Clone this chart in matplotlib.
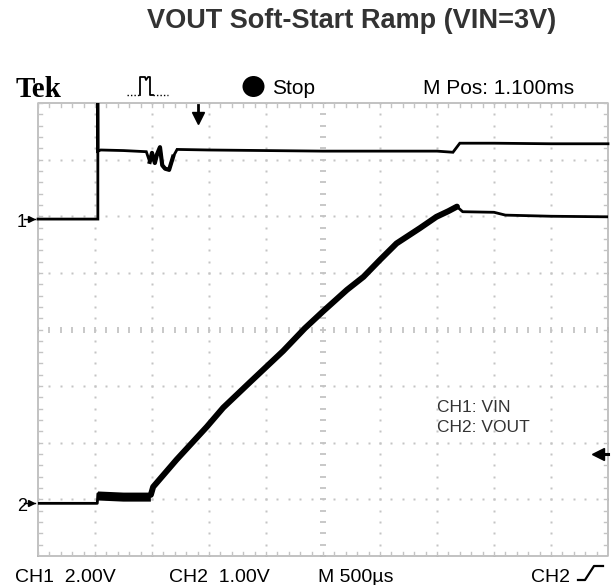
import numpy as np
import matplotlib
matplotlib.use("Agg")
import matplotlib.pyplot as plt
from matplotlib import font_manager as fm
from matplotlib.lines import Line2D
from matplotlib.patches import Circle

# ---------------- data (screen divisions) ----------------
vin_t = [0.0, 1.05, 1.05, 1.052, 1.10, 1.50, 1.90, 1.96, 2.00, 2.05, 2.09, 2.14, 2.18, 2.23, 2.30, 2.37, 2.44,
         3.0, 4.0, 5.0, 6.0, 7.0, 7.28, 7.40, 8.0, 9.0, 10.0]
vin_v = [5.95, 5.95, 8.0, 7.15, 7.17, 7.16, 7.14, 6.96, 7.12, 6.94, 7.10, 7.22, 6.90, 6.84, 6.82, 7.05, 7.18,
         7.17, 7.16, 7.15, 7.15, 7.15, 7.13, 7.29, 7.29, 7.28, 7.28]

vout_t = [0.0, 1.04, 1.05, 1.50, 1.98, 2.02, 2.43, 2.96, 3.25, 3.72, 4.30, 4.68, 5.0, 5.42, 5.71, 6.0,
          6.29, 6.70, 6.99, 7.20, 7.35, 7.45, 8.0, 8.2, 9.0, 10.0]
vout_v = [0.93, 0.93, 1.10, 1.08, 1.08, 1.22, 1.70, 2.28, 2.62, 3.07, 3.62, 4.02, 4.32, 4.70, 4.93, 5.23,
          5.52, 5.79, 5.99, 6.09, 6.17, 6.08, 6.07, 6.02, 6.00, 5.99]

ch1_ground = 5.95
ch2_ground = 0.93
trig_level = 1.80
trig_pos = 2.8

title = "VOUT Soft-Start Ramp (VIN=3V)"
legend_lines = ["CH1: VIN", "CH2: VOUT"]
bottom_labels = ["CH1  2.00V", "CH2  1.00V", "M 500\u00b5s", "CH2"]
top_labels = ["Tek", "Stop", "M Pos: 1.100ms"]

# ---------------- figure ----------------
W, H = 613, 585
fig = plt.figure(figsize=(W / 100, H / 100), dpi=100)
fig.patch.set_facecolor("white")

L, R, T, B = 38, 608, 103, 556
ax = fig.add_axes([L / W, 1 - B / H, (R - L) / W, (B - T) / H])
ax.set_xlim(0, 10)
ax.set_ylim(0, 8)
ax.set_axis_off()

def px(x, y):
    return x / W, 1 - y / H

grid_c = "#c4c4c4"
sub = np.arange(0, 10.001, 0.2)
subv = np.arange(0, 8.001, 0.2)
for gy in range(1, 8):
    if gy == 4:
        continue
    ax.plot(sub, np.full_like(sub, gy), ls="none", marker="s", ms=1.7, mfc=grid_c, mec="none", zorder=1)
for gx in range(1, 10):
    if gx == 5:
        continue
    ax.plot(np.full_like(subv, gx), subv, ls="none", marker="s", ms=1.7, mfc=grid_c, mec="none", zorder=1)
ax.plot(sub, np.full_like(sub, 4), ls="none", marker="|", ms=5, mew=1.3, mec=grid_c, zorder=1)
ax.plot(np.full_like(subv, 5), subv, ls="none", marker="_", ms=5, mew=1.3, mec=grid_c, zorder=1)
ax.plot([0, 10, 10, 0, 0], [0, 0, 8, 8, 0], color="#b8b8b8", lw=1.2, zorder=1, clip_on=False)
dy = 4 / 56.6
dx = 4 / 57
for s in sub:
    ax.plot([s, s], [0, dy], color=grid_c, lw=1.0, zorder=1)
    ax.plot([s, s], [8, 8 - dy], color=grid_c, lw=1.0, zorder=1)
for s in subv:
    ax.plot([0, dx], [s, s], color=grid_c, lw=1.0, zorder=1)
    ax.plot([10, 10 - dx], [s, s], color=grid_c, lw=1.0, zorder=1)

# ---------------- traces ----------------
ax.plot(vin_t, vin_v, color="black", lw=2.0, solid_joinstyle="miter", zorder=3, clip_on=False)
ax.plot(vout_t, vout_v, color="black", lw=2.0, zorder=3)
vt = np.array(vout_t)
vv = np.array(vout_v)
m1 = (vt >= 1.05) & (vt <= 1.98)
ax.plot(vt[m1], vv[m1] - 0.04, color="black", lw=6.5, solid_capstyle="butt", zorder=3)
m2 = (vt >= 1.98) & (vt <= 7.35)
ax.plot(vt[m2], vv[m2], color="black", lw=4.3, solid_capstyle="round", zorder=3)
vn = np.array(vin_t)
m3 = (vn >= 1.95) & (vn <= 2.40)
ax.plot(vn[m3], np.array(vin_v)[m3], color="black", lw=3.0, zorder=3)

# ground markers
for g in (ch1_ground, ch2_ground):
    ax.plot([-0.12], [g], marker=">", ms=5, color="black", clip_on=False, zorder=4)
    ax.plot([-0.25, -0.05], [g, g], color="black", lw=1.0, clip_on=False)

# trigger level arrow at right
ax.plot([9.82, 10.0], [trig_level, trig_level], color="black", lw=2.2, clip_on=False, zorder=4)
ax.plot([9.82], [trig_level], marker="<", ms=8, color="black", clip_on=False, zorder=4)
# trigger position arrow at top
ax.plot([trig_pos, trig_pos], [7.97, 7.80], color="black", lw=2.0)
ax.plot([trig_pos], [7.74], marker="v", ms=8, color="black")

# ---------------- texts ----------------
def has_font(name):
    try:
        fm.findfont(fm.FontProperties(family=name), fallback_to_default=False)
        return True
    except Exception:
        return False

sans = "Liberation Sans" if has_font("Liberation Sans") else "DejaVu Sans"
serif = "Liberation Serif" if has_font("Liberation Serif") else "DejaVu Serif"

fig.text(*px(352, 21), title, ha="center", va="center", fontsize=19.5, fontweight="bold",
         color="#333333", family=sans)

fig.text(*px(16, 97), top_labels[0], ha="left", va="baseline", fontsize=21, fontweight="bold",
         family=serif, color="black")
fig.text(*px(272, 94), top_labels[1], ha="left", va="baseline", fontsize=15, family=sans, color="black")
fig.text(*px(423, 94), top_labels[2], ha="left", va="baseline", fontsize=15, family=sans, color="black")
fig.patches.append(Circle(px(253.5, 86.5), radius=11 / W, transform=fig.transFigure,
                          facecolor="black", edgecolor="none"))

# acquisition icon
fig.lines.append(Line2D([x / W for x in [127, 140]], [1 - 95 / H] * 2, transform=fig.transFigure,
                        color="black", lw=1.0, ls=(0, (1, 1.5))))
fig.lines.append(Line2D([x / W for x in [140, 140, 145, 146, 148, 150, 150, 153]],
                        [1 - y / H for y in [95, 77, 77, 80, 77, 77, 95, 95]],
                        transform=fig.transFigure, color="black", lw=1.3))
fig.lines.append(Line2D([x / W for x in [153, 168]], [1 - 95 / H] * 2, transform=fig.transFigure,
                        color="black", lw=1.0, ls=(0, (1, 1.5))))

# channel ground labels
fig.text(*px(17, 227), "1", ha="left", va="baseline", fontsize=13, family=sans)
fig.text(*px(17, 511), "2", ha="left", va="baseline", fontsize=13, family=sans)

# bottom readouts
for xpos, lab in zip([15, 169, 318], bottom_labels[:3]):
    fig.text(*px(xpos, 582), lab, ha="left", va="baseline", fontsize=14, family=sans, color="black")
fig.text(*px(570, 582), bottom_labels[3], ha="right", va="baseline", fontsize=14, family=sans, color="black")
fig.lines.append(Line2D([x / W for x in [578, 585, 594, 603]],
                        [1 - y / H for y in [580, 580, 566, 566]],
                        transform=fig.transFigure, color="black", lw=1.6))

# legend text
fig.text(*px(437, 408), legend_lines[0], ha="left", va="center", fontsize=12.5, family=sans, color="#333333")
fig.text(*px(437, 427), legend_lines[1], ha="left", va="center", fontsize=12.5, family=sans, color="#333333")

fig.savefig("out.png", dpi=100, facecolor="white")
